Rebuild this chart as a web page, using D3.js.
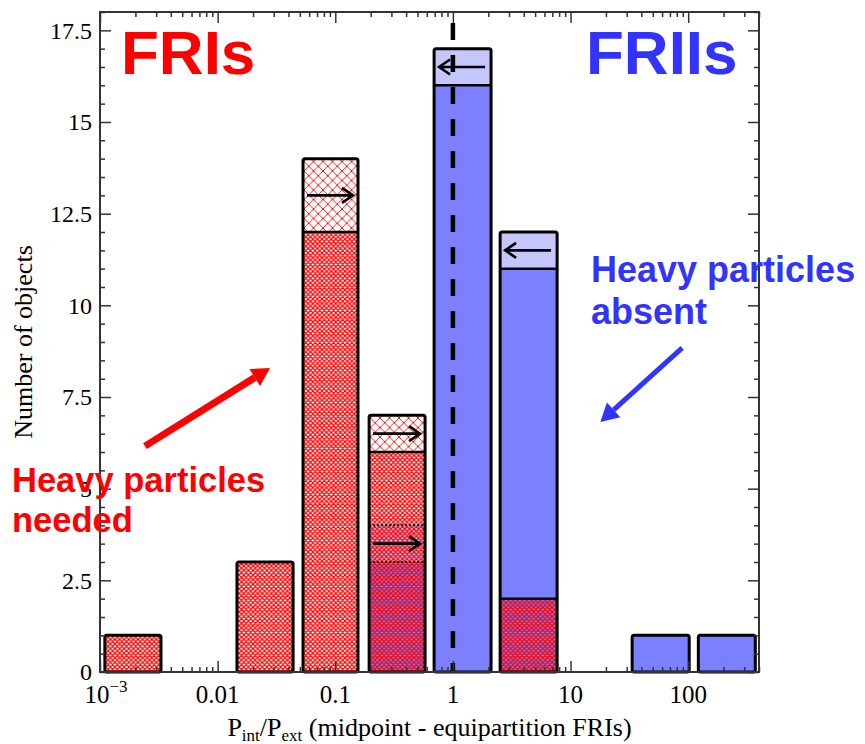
<!DOCTYPE html>
<html>
<head>
<meta charset="utf-8">
<script src="https://cdn.jsdelivr.net/npm/d3@7"></script>
<style>
  body { margin: 0; background: #fff; }
  svg { display: block; }
  .tick text { font-family: "Liberation Serif", "Times New Roman", serif; }
</style>
</head>
<body>
<svg width="865" height="744"></svg>
<script>
// bins (lower / upper edge of each bar, in Pint/Pext)
var binLo = [0.0011, 0.0146, 0.0532, 0.194, 0.692, 2.52, 33.4, 122];
var binHi = [0.0033, 0.0438, 0.156, 0.580, 2.11, 7.69, 102, 372];

// stacked counts, bottom to top
var both    = [0, 0, 0, 3, 0, 2, 0, 0];   // FRI hatch over FRII blue
var bothLim = [0, 0, 0, 1, 0, 0, 0, 0];   // hatch over light blue, lower limit
var fri     = [1, 3, 12, 2, 0, 0, 0, 0];  // FRI dense hatch
var friLim  = [0, 0, 2, 1, 0, 0, 0, 0];   // FRI lower limits
var frii    = [0, 0, 0, 0, 16, 9, 1, 1];  // FRII
var friiLim = [0, 0, 0, 0, 1, 1, 0, 0];   // FRII upper limits

var keys = ["both", "bothLim", "fri", "friLim", "frii", "friiLim"];
var xMajor = [0.001, 0.01, 0.1, 1, 10, 100];
var xMajorLabels = ["10|-3", "0.01", "0.1", "1", "10", "100"];
var yMajor = [0, 2.5, 5, 7.5, 10, 12.5, 15, 17.5];

var svg = d3.select("svg"),
  margin = { top: 12, right: 106, bottom: 72, left: 100 },
  width = +svg.attr("width") - margin.left - margin.right,
  height = +svg.attr("height") - margin.top - margin.bottom;

var x = d3.scaleLog().domain([0.001, 400]).range([margin.left, margin.left + width]);
var y = d3.scaleLinear().domain([0, 18]).range([margin.top + height, margin.top]);

var rows = binLo.map(function(lo, i) {
  return { lo: lo, hi: binHi[i], both: both[i], bothLim: bothLim[i], fri: fri[i],
    friLim: friLim[i], frii: frii[i], friiLim: friiLim[i] };
});
var series = d3.stack().keys(keys)(rows);

// patterns
var defs = svg.append("defs");
function hatch(id, size, bg, sw) {
  var p = defs.append("pattern").attr("id", id)
    .attr("patternUnits", "userSpaceOnUse")
    .attr("width", size).attr("height", size);
  p.append("rect").attr("width", size).attr("height", size).attr("fill", bg);
  p.append("path")
    .attr("d", "M0,0L" + size + "," + size + "M0," + size + "L" + size + ",0" +
      "M" + (-size / 2) + "," + (size / 2) + "L" + (size / 2) + "," + (-size / 2) +
      "M" + (size / 2) + "," + (size * 1.5) + "L" + (size * 1.5) + "," + (size / 2))
    .attr("stroke", "#ff0000").attr("stroke-width", sw).attr("fill", "none");
}
var blue = "#7b80ff", lightBlue = "#c4c6fc";
hatch("dense", 4.6, "#ffffff", 1.2);
hatch("denseBlue", 4.6, blue, 1.2);
hatch("denseLight", 4.6, lightBlue, 1.2);
hatch("coarse", 9.5, "#ffffff", 0.9);

var fills = {
  both: "url(#denseBlue)", bothLim: "url(#denseLight)", fri: "url(#dense)",
  friLim: "url(#coarse)", frii: blue, friiLim: lightBlue
};

var g = svg.append("g");

// segments
series.forEach(function(s) {
  g.selectAll(null)
    .data(s.filter(function(d) { return d[1] > d[0]; }))
    .enter()
    .append("rect")
    .attr("x", function(d) { return x(d.data.lo); })
    .attr("width", function(d) { return x(d.data.hi) - x(d.data.lo); })
    .attr("y", function(d) { return y(d[1]); })
    .attr("height", function(d) { return y(d[0]) - y(d[1]); })
    .attr("fill", fills[s.key]);
});

// separators between segments
rows.forEach(function(r, i) {
  var segs = series.map(function(s) { return { key: s.key, lo: s[i][0], hi: s[i][1] }; })
    .filter(function(d) { return d.hi > d.lo; });
  segs.forEach(function(d, j) {
    if (j == segs.length - 1) return;
    var next = segs[j + 1];
    var dotted = d.key == "bothLim" || next.key == "bothLim";
    g.append("line")
      .attr("x1", x(r.lo)).attr("x2", x(r.hi))
      .attr("y1", y(d.hi)).attr("y2", y(d.hi))
      .attr("stroke", "#000")
      .attr("stroke-width", dotted ? 2 : 2.5)
      .attr("stroke-dasharray", dotted ? "2,2" : null);
  });
  // arrows in limit segments
  segs.forEach(function(d) {
    if (d.key != "friLim" && d.key != "bothLim" && d.key != "friiLim") return;
    var ym = y((d.lo + d.hi) / 2);
    var left = x(r.lo), right = x(r.hi);
    var tail, tip, dir;
    if (d.key == "friiLim") { tail = right - 6; tip = left + 5; dir = -1; }
    else { tail = left + 4; tip = right - 5; dir = 1; }
    g.append("path")
      .attr("d", "M" + tail + "," + ym + "L" + tip + "," + ym +
        "M" + (tip - dir * 11) + "," + (ym - 7.5) + "L" + tip + "," + ym +
        "L" + (tip - dir * 11) + "," + (ym + 7.5))
      .attr("stroke", "#000").attr("stroke-width", 2.6).attr("fill", "none");
  });
});

// outer bar borders
g.selectAll(".bar")
  .data(rows)
  .enter()
  .append("rect")
  .attr("class", "bar")
  .attr("x", function(d) { return x(d.lo); })
  .attr("width", function(d) { return x(d.hi) - x(d.lo); })
  .attr("y", function(d) { return y(d3.sum(keys, function(k) { return d[k]; })); })
  .attr("height", function(d) { return y(0) - y(d3.sum(keys, function(k) { return d[k]; })); })
  .attr("rx", 2)
  .attr("fill", "none")
  .attr("stroke", "#000")
  .attr("stroke-width", 3);

// equipartition line
g.append("line")
  .attr("x1", x(1)).attr("x2", x(1))
  .attr("y1", y(17.7)).attr("y2", y(0))
  .attr("stroke", "#000").attr("stroke-width", 4.5)
  .attr("stroke-dasharray", "17,15");

// axes
var xMinor = x.ticks().filter(function(t) { return xMajor.indexOf(t) < 0; });
var yMinor = d3.range(0, 18.01, 0.5).filter(function(t) { return yMajor.indexOf(t) < 0; });

function axisStyle(sel) {
  sel.select(".domain").remove();
  sel.selectAll(".tick line").attr("stroke", "#333").attr("stroke-width", 1.5);
}

var fmt = function(d, i) { return ""; };
svg.append("g").attr("transform", "translate(0," + y(0) + ")")
  .call(d3.axisBottom(x).tickValues(xMajor).tickSize(-11).tickFormat(fmt))
  .call(axisStyle);
svg.append("g").attr("transform", "translate(0," + y(0) + ")")
  .call(d3.axisBottom(x).tickValues(xMinor).tickSize(-5).tickFormat(fmt))
  .call(axisStyle);
svg.append("g").attr("transform", "translate(0," + margin.top + ")")
  .call(d3.axisTop(x).tickValues(xMajor).tickSize(-11).tickFormat(fmt))
  .call(axisStyle);
svg.append("g").attr("transform", "translate(0," + margin.top + ")")
  .call(d3.axisTop(x).tickValues(xMinor).tickSize(-5).tickFormat(fmt))
  .call(axisStyle);
svg.append("g").attr("transform", "translate(" + margin.left + ",0)")
  .call(d3.axisLeft(y).tickValues(yMajor).tickSize(-11).tickPadding(8)
    .tickFormat(function(d) { return d; }))
  .call(axisStyle)
  .selectAll("text").attr("font-size", 24).attr("fill", "#000");
svg.append("g").attr("transform", "translate(" + margin.left + ",0)")
  .call(d3.axisLeft(y).tickValues(yMinor).tickSize(-5).tickFormat(fmt))
  .call(axisStyle);
svg.append("g").attr("transform", "translate(" + (margin.left + width) + ",0)")
  .call(d3.axisRight(y).tickValues(yMajor).tickSize(-11).tickFormat(fmt))
  .call(axisStyle);
svg.append("g").attr("transform", "translate(" + (margin.left + width) + ",0)")
  .call(d3.axisRight(y).tickValues(yMinor).tickSize(-5).tickFormat(fmt))
  .call(axisStyle);

// frame
svg.append("rect")
  .attr("x", margin.left).attr("y", margin.top)
  .attr("width", width).attr("height", height)
  .attr("fill", "none").attr("stroke", "#333").attr("stroke-width", 2);

// x tick labels
xMajor.forEach(function(v, i) {
  var parts = xMajorLabels[i].split("|");
  var t = svg.append("text")
    .attr("x", x(v)).attr("y", 703)
    .attr("text-anchor", "middle")
    .attr("font-family", "Liberation Serif, serif")
    .attr("font-size", 25)
    .text(parts[0]);
  if (parts[1]) {
    t.attr("x", x(v) + 6);
    t.append("tspan").attr("dy", -11).attr("font-size", 17).text("\u2212" + parts[1].slice(1));
  }
});

// axis titles
var xt = svg.append("text")
  .attr("x", margin.left + width / 2).attr("y", 736)
  .attr("text-anchor", "middle")
  .attr("font-family", "Liberation Serif, serif")
  .attr("font-size", 26);
xt.append("tspan").text("P");
xt.append("tspan").attr("font-size", 17).attr("dy", 5).text("int");
xt.append("tspan").attr("dy", -5).text("/P");
xt.append("tspan").attr("font-size", 17).attr("dy", 5).text("ext");
xt.append("tspan").attr("dy", -5).text(" (midpoint - equipartition FRIs)");

svg.append("text")
  .attr("transform", "translate(32," + (margin.top + height / 2) + ") rotate(-90)")
  .attr("text-anchor", "middle")
  .attr("font-family", "Liberation Serif, serif")
  .attr("font-size", 26)
  .text("Number of objects");

// annotations
var sans = "Liberation Sans, Arial, sans-serif";
svg.append("text").attr("x", 121).attr("y", 74)
  .attr("font-family", sans).attr("font-weight", "bold").attr("font-size", 62)
  .attr("fill", "#ff0000").text("FRIs");
svg.append("text").attr("x", 586).attr("y", 74)
  .attr("font-family", sans).attr("font-weight", "bold").attr("font-size", 62)
  .attr("fill", "#3333ff").text("FRIIs");

var red = svg.append("text").attr("font-family", sans).attr("font-weight", "bold")
  .attr("font-size", 34.5).attr("fill", "#ff0000");
red.append("tspan").attr("x", 12).attr("y", 492).text("Heavy particles");
red.append("tspan").attr("x", 12).attr("y", 532).text("needed");

var bl = svg.append("text").attr("font-family", sans).attr("font-weight", "bold")
  .attr("font-size", 36).attr("fill", "#3333ff");
bl.append("tspan").attr("x", 591).attr("y", 282).text("Heavy particles");
bl.append("tspan").attr("x", 591).attr("y", 324).text("absent");

function arrow(x0, y0, x1, y1, color, w, hl, hw) {
  var p0 = [x(x0), y(y0)], p1 = [x(x1), y(y1)];
  var dx = p1[0] - p0[0], dy = p1[1] - p0[1], L = Math.sqrt(dx * dx + dy * dy);
  var ux = dx / L, uy = dy / L;
  var bx = p1[0] - ux * hl, by = p1[1] - uy * hl;
  svg.append("line").attr("x1", p0[0]).attr("y1", p0[1]).attr("x2", bx).attr("y2", by)
    .attr("stroke", color).attr("stroke-width", w);
  svg.append("path")
    .attr("d", "M" + p1[0] + "," + p1[1] + "L" + (bx - uy * hw) + "," + (by + ux * hw) +
      "L" + (bx + uy * hw) + "," + (by - ux * hw) + "Z")
    .attr("fill", color);
}
arrow(0.00241, 6.16, 0.0279, 8.29, "#ff0000", 7, 18, 10);
arrow(88.9, 8.84, 17.9, 6.82, "#3333ff", 5, 18, 10);
</script>
</body>
</html>
